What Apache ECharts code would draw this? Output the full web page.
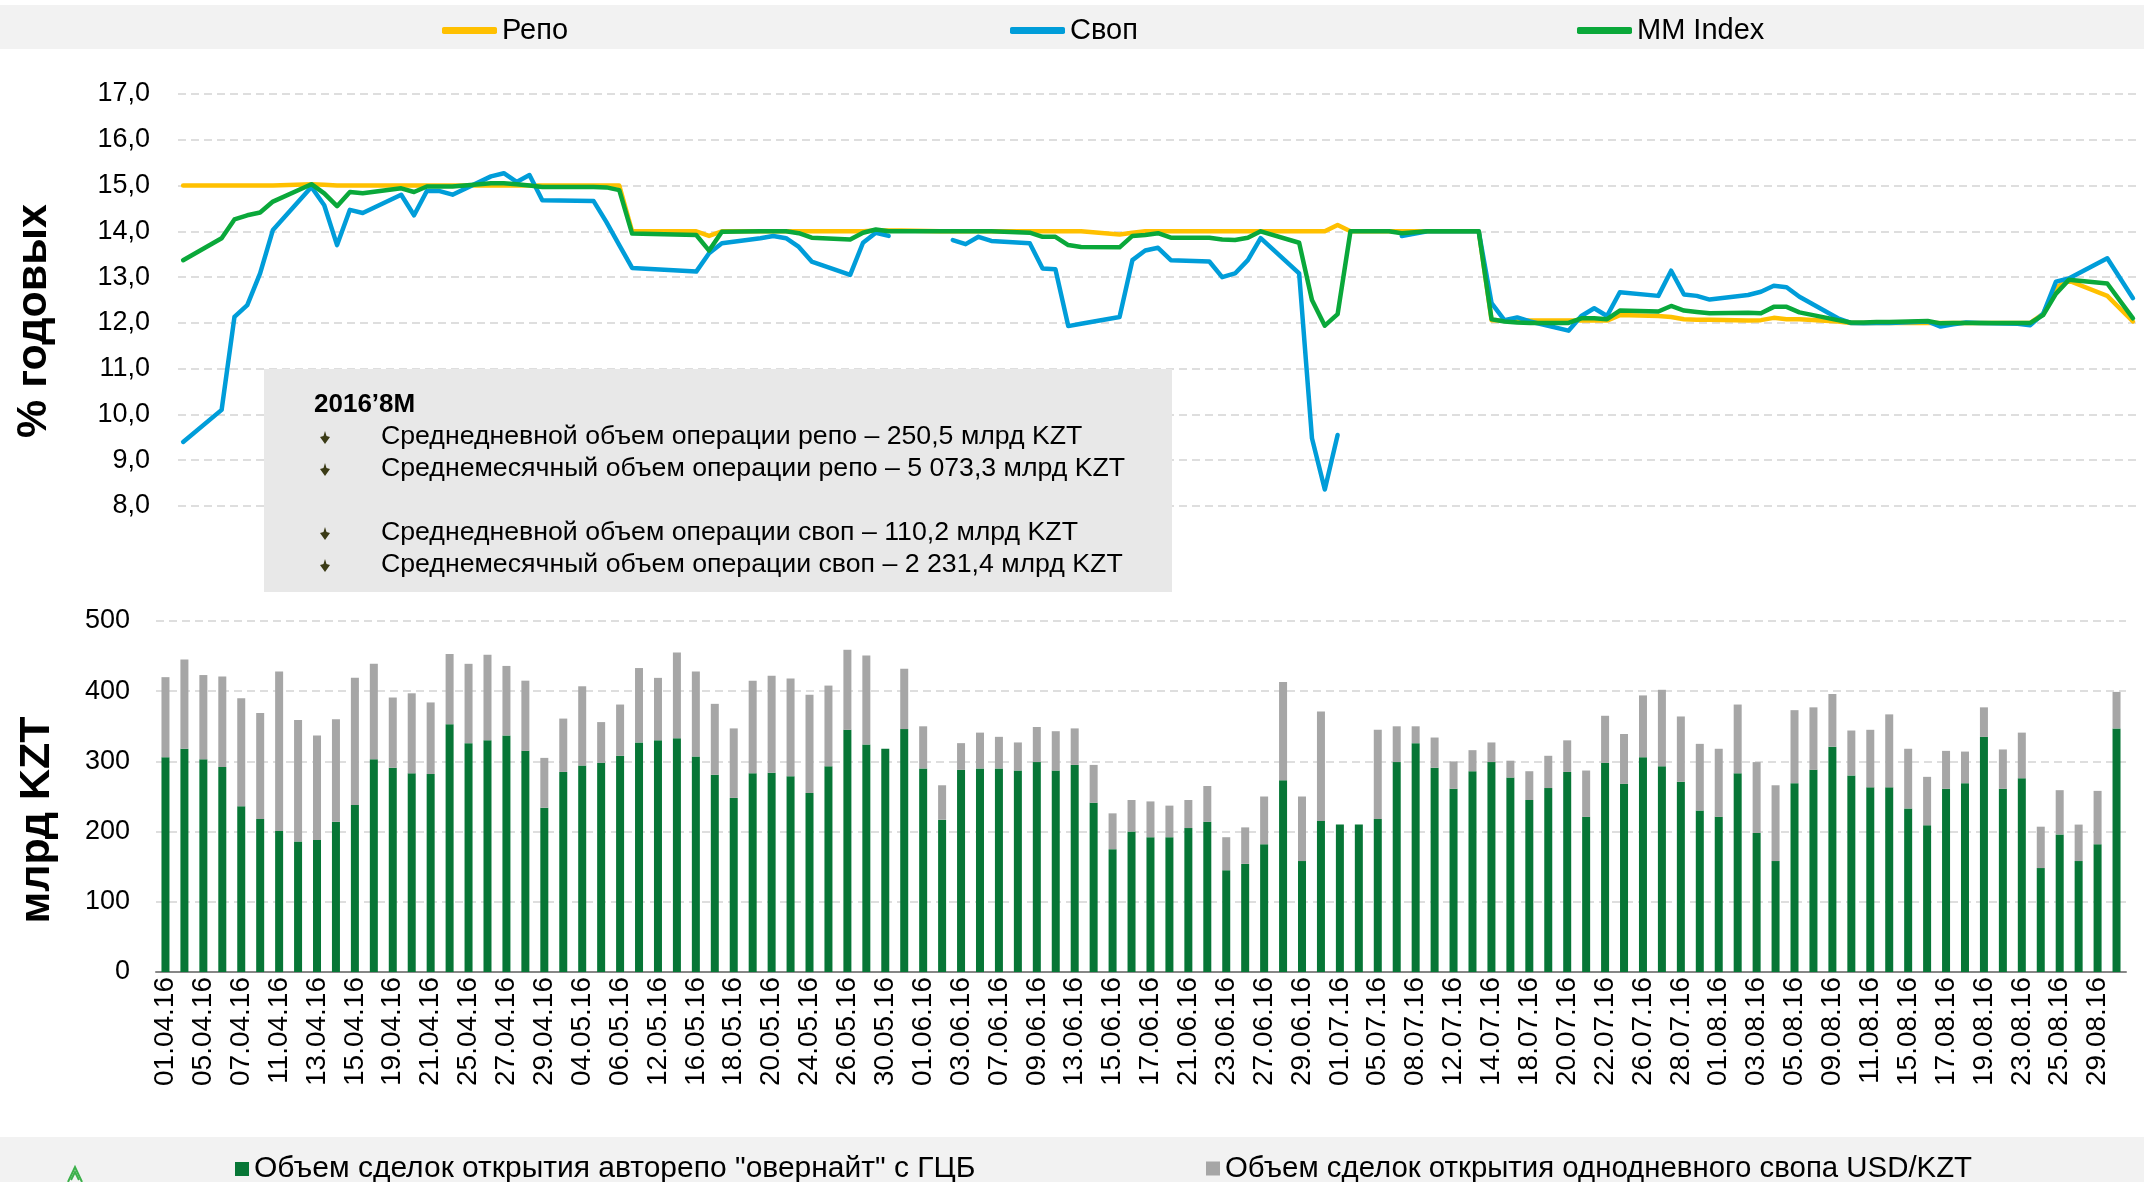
<!DOCTYPE html>
<html>
<head>
<meta charset="utf-8">
<title>Репо, своп и MM Index</title>
<script src="https://cdn.jsdelivr.net/npm/echarts@6/dist/echarts.min.js"></script>
<style>
  html, body { margin: 0; padding: 0; background: #fff; }
  #chart { width: 2144px; height: 1182px; }
</style>
</head>
<body>
<div id="chart"></div>
<script>
// торговые дни
const dates = [
  '01.04.16','04.04.16','05.04.16','06.04.16','07.04.16','08.04.16','11.04.16','12.04.16','13.04.16','14.04.16',
  '15.04.16','18.04.16','19.04.16','20.04.16','21.04.16','22.04.16','25.04.16','26.04.16','27.04.16','28.04.16',
  '29.04.16','03.05.16','04.05.16','05.05.16','06.05.16','11.05.16','12.05.16','13.05.16','16.05.16','17.05.16',
  '18.05.16','19.05.16','20.05.16','23.05.16','24.05.16','25.05.16','26.05.16','27.05.16','30.05.16','31.05.16',
  '01.06.16','02.06.16','03.06.16','06.06.16','07.06.16','08.06.16','09.06.16','10.06.16','13.06.16','14.06.16',
  '15.06.16','16.06.16','17.06.16','20.06.16','21.06.16','22.06.16','23.06.16','24.06.16','27.06.16','28.06.16',
  '29.06.16','30.06.16','01.07.16','04.07.16','05.07.16','07.07.16','08.07.16','11.07.16','12.07.16','13.07.16',
  '14.07.16','15.07.16','18.07.16','19.07.16','20.07.16','21.07.16','22.07.16','25.07.16','26.07.16','27.07.16',
  '28.07.16','29.07.16','01.08.16','02.08.16','03.08.16','04.08.16','05.08.16','08.08.16','09.08.16','10.08.16',
  '11.08.16','12.08.16','15.08.16','16.08.16','17.08.16','18.08.16','19.08.16','22.08.16','23.08.16','24.08.16',
  '25.08.16','26.08.16','29.08.16','31.08.16'
]

// ставки, % годовых
const repo = [
  15.0,15.0,15.0,15.0,15.0,15.0,15.03,15.02,15.0,15.0,
  15.0,15.0,15.0,15.0,15.0,15.0,15.0,15.0,15.0,15.0,
  15.0,15.0,15.0,15.0,14.0,14.0,13.9,14.0,14.0,14.0,
  14.0,14.0,14.0,14.0,14.0,14.02,14.02,14.02,14.0,14.0,
  14.0,14.0,14.0,14.0,14.0,14.0,14.0,14.0,13.93,13.97,
  14.0,14.0,14.0,14.0,14.0,14.0,14.0,14.0,14.0,14.0,
  14.0,14.14,14.0,14.0,14.0,14.0,14.0,14.0,12.06,12.05,
  12.05,12.05,12.05,12.05,12.05,12.05,12.17,12.15,12.13,12.08,
  12.07,12.07,12.05,12.06,12.11,12.08,12.08,12.03,12.0,12.0,
  12.0,12.0,12.0,12.0,12.0,12.0,12.0,12.0,12.0,12.2,
  12.78,12.92,12.59,12.03
]
const swap = [
  9.4,10.1,12.13,12.39,13.08,14.03,14.97,14.57,13.7,14.47,
  14.4,14.8,14.35,14.88,14.88,14.8,15.2,15.27,15.08,15.23,
  14.68,14.66,14.2,13.7,13.2,13.12,13.52,13.74,13.85,13.9,
  13.85,13.66,13.34,13.05,13.75,13.97,13.9,null,null,13.81,
  13.72,13.88,13.79,13.74,13.19,13.17,11.93,11.98,12.13,13.37,
  13.58,13.64,13.37,13.34,13.0,13.08,13.37,13.85,13.08,9.48,
  8.36,9.55,null,null,13.9,14.0,14.0,14.0,12.43,12.06,
  12.12,12.03,11.83,12.15,12.32,12.15,12.67,12.59,13.14,12.62,
  12.59,12.51,12.61,12.68,12.81,12.78,12.57,12.1,12.0,11.99,
  12.0,12.0,12.03,11.92,11.97,12.01,12.0,11.98,11.95,12.2,
  12.9,12.97,13.41,12.54
]
const mmIndex = [
  13.37,13.85,14.26,14.35,14.41,14.65,15.03,14.83,14.55,14.86,
  14.83,14.94,14.86,14.98,14.98,14.98,15.05,15.05,15.03,15.0,
  14.97,14.97,14.96,14.9,13.95,13.92,13.58,13.99,14.0,14.0,
  14.0,13.96,13.86,13.82,13.97,14.04,14.0,14.0,14.0,14.0,
  14.0,14.0,14.0,13.97,13.88,13.88,13.7,13.66,13.65,13.9,
  13.92,13.96,13.86,13.86,13.82,13.81,13.86,14.0,13.75,12.5,
  11.94,12.19,14.0,14.0,13.96,14.0,14.0,14.0,12.08,12.03,
  12.01,12.0,12.0,12.1,12.1,12.08,12.27,12.25,12.37,12.27,
  12.24,12.21,12.22,12.21,12.35,12.35,12.23,12.06,12.01,12.01,
  12.02,12.02,12.04,11.99,12.0,12.0,12.0,12.0,12.0,12.17,
  12.64,12.94,12.86,12.1
]

// объемы, млрд KZT
const repoVolume = [
  306,318,303,292,236,218,201,186,188,214,
  238,303,291,283,282,353,326,330,337,315,
  234,285,294,298,308,327,330,333,307,281,
  248,283,284,279,255,293,345,324,318,346,
  290,217,288,290,290,287,299,287,295,241,
  175,200,192,192,205,214,145,154,182,273,
  158,215,210,210,218,299,326,291,261,286,
  299,277,245,262,285,221,298,268,306,293,
  271,230,221,283,198,158,269,288,321,280,
  263,263,233,209,261,269,335,261,276,148,
  196,158,182,347
]
const swapVolume = [
  114,127,120,129,154,151,227,173,149,146,
  181,136,100,114,102,100,113,122,99,100,
  71,76,113,58,73,106,89,122,121,101,
  99,132,138,139,140,115,114,127,0,86,
  60,49,38,51,45,40,50,56,52,54,
  51,45,51,45,40,51,47,52,68,140,
  92,156,0,0,127,51,24,43,39,30,
  28,24,41,46,45,66,67,71,88,109,
  93,95,97,98,101,108,104,89,75,64,
  82,104,85,69,54,45,42,56,65,59,
  63,52,76,52
]

const seriesNames = ['Репо', 'Своп', 'MM Index']
const volumeNames = ['Объем сделок открытия авторепо "овернайт" с ГЦБ', 'Объем сделок открытия однодневного свопа USD/KZT']

const noteTitle = '2016’8M'
const notes = [
  'Среднедневной объем операции репо – 250,5 млрд KZT',
  'Среднемесячный объем операции репо – 5 073,3 млрд KZT',
  'Среднедневной объем операции своп – 110,2 млрд KZT',
  'Среднемесячный объем операции своп – 2 231,4 млрд KZT'
]

const FONT = '"Liberation Sans", Arial, sans-serif'
const DAY = 86400000

// верхний график идет по календарным датам
function toTime(s) {
  const p = s.split('.')
  return new Date(2000 + Number(p[2]), Number(p[1]) - 1, Number(p[0])).getTime()
}
const times = dates.map(toTime)
const pairs = arr => arr.map((v, i) => [times[i], v === null ? '-' : v])

const dashed = { color: '#dedede', width: 2, type: [8, 5] }

const lineSeries = (name, data, color) => ({
  name: name,
  type: 'line',
  xAxisIndex: 0,
  yAxisIndex: 0,
  data: pairs(data),
  showSymbol: false,
  connectNulls: false,
  lineStyle: { color: color, width: 4.5, cap: 'round', join: 'round' },
  itemStyle: { color: color },
  animation: false
})

// плашка со статистикой
const noteY = [437, 469, 533, 565]
const noteItems = [
  { type: 'rect', z: 100, shape: { x: 264, y: 369, width: 908, height: 223 }, style: { fill: '#e8e8e8' } },
  { type: 'text', z: 101, x: 314, y: 405, style: { text: noteTitle, fontFamily: FONT, fontSize: 26, fontWeight: 'bold', fill: '#000', verticalAlign: 'middle' } }
]
notes.forEach((t, i) => {
  noteItems.push({
    type: 'polygon', z: 101, x: 325, y: noteY[i],
    shape: { points: [[0, -6], [1.5, -1], [5, 0], [0, 7], [-5, 0], [-1.5, -1]] },
    style: { fill: '#3b3b16' }
  })
  noteItems.push({
    type: 'text', z: 101, x: 381, y: noteY[i],
    style: { text: t, fontFamily: FONT, fontSize: 26.7, fill: '#000', verticalAlign: 'middle' }
  })
})

const option = {
  animation: false,
  textStyle: { fontFamily: FONT },
  legend: [
    { data: [seriesNames[0]], left: 437, top: 11 },
    { data: [seriesNames[1]], left: 1005, top: 11 },
    { data: [seriesNames[2]], left: 1572, top: 11 },
    { data: [volumeNames[0]], left: 230, top: 1149 },
    { data: [volumeNames[1]], left: 1201, top: 1149 }
  ].map((l, i) => Object.assign(l, {
    selectedMode: false,
    icon: i < 3 ? 'roundRect' : 'rect',
    itemWidth: i < 3 ? 55 : 14,
    itemHeight: i < 3 ? 7 : 14,
    textStyle: { fontSize: i < 3 ? 29 : (i === 3 ? 30 : 29.4), color: '#000', fontFamily: FONT }
  })),
  grid: [
    { left: 178, right: 4, top: 94, height: 412 },
    { left: 156, right: 18, top: 621, height: 351 }
  ],
  xAxis: [
    { type: 'time', gridIndex: 0, min: times[0] - 0.4 * DAY, max: times[times.length - 1] + 0.55 * DAY, show: false },
    {
      type: 'category', gridIndex: 1, data: dates,
      axisLine: { lineStyle: { color: '#878787', width: 2 } },
      axisTick: { interval: 0, length: 6, lineStyle: { color: '#878787', width: 2 } },
      axisLabel: { interval: 1, rotate: 90, fontSize: 28, color: '#000', margin: 5 }
    }
  ],
  yAxis: [
    {
      type: 'value', gridIndex: 0, min: 8, max: 17, interval: 1,
      axisLine: { show: false }, axisTick: { show: false },
      axisLabel: { fontSize: 27, color: '#000', margin: 28, formatter: v => v.toFixed(1).replace('.', ',') },
      splitLine: { lineStyle: dashed }
    },
    {
      type: 'value', gridIndex: 1, min: 0, max: 500, interval: 100,
      axisLine: { show: false }, axisTick: { show: false },
      axisLabel: { fontSize: 27, color: '#000', margin: 26 },
      splitLine: { lineStyle: dashed }
    }
  ],
  graphic: [
    { type: 'rect', z: 1, shape: { x: 0, y: 5, width: 2144, height: 44 }, style: { fill: '#f2f2f2' } },
    { type: 'rect', z: 1, shape: { x: 0, y: 1137, width: 2144, height: 45 }, style: { fill: '#f2f2f2' } },
    { type: 'group', z: 100, children: noteItems },
    { type: 'text', x: 34, y: 321, rotation: Math.PI / 2,
      style: { text: '% годовых', fontFamily: FONT, fontSize: 43, fontWeight: 'bold', fill: '#000', align: 'center', verticalAlign: 'middle' } },
    { type: 'text', x: 37, y: 820, rotation: Math.PI / 2,
      style: { text: 'млрд KZT', fontFamily: FONT, fontSize: 43, fontWeight: 'bold', fill: '#000', align: 'center', verticalAlign: 'middle' } },
    // логотип внизу слева
    { type: 'polyline', z: 2, shape: { points: [[68, 1182], [75, 1167], [82, 1182]] }, style: { stroke: '#3cb04a', lineWidth: 2, fill: null } },
    { type: 'polyline', z: 2, shape: { points: [[71, 1180], [75, 1172], [79, 1180]] }, style: { stroke: '#3cb04a', lineWidth: 2, fill: null } }
  ],
  series: [
    lineSeries(seriesNames[0], repo, '#ffc000'),
    lineSeries(seriesNames[1], swap, '#009dd9'),
    lineSeries(seriesNames[2], mmIndex, '#0aa83a'),
    {
      name: volumeNames[0], type: 'bar', stack: 'vol', xAxisIndex: 1, yAxisIndex: 1,
      data: repoVolume, barWidth: 8, itemStyle: { color: '#077636' }
    },
    {
      name: volumeNames[1], type: 'bar', stack: 'vol', xAxisIndex: 1, yAxisIndex: 1,
      data: swapVolume, barWidth: 8, itemStyle: { color: '#a6a6a6' }
    }
  ]
}

const chart = echarts.init(document.getElementById('chart'))
chart.setOption(option)
window.onresize = function () {
  chart.resize()
}
</script>
</body>
</html>
